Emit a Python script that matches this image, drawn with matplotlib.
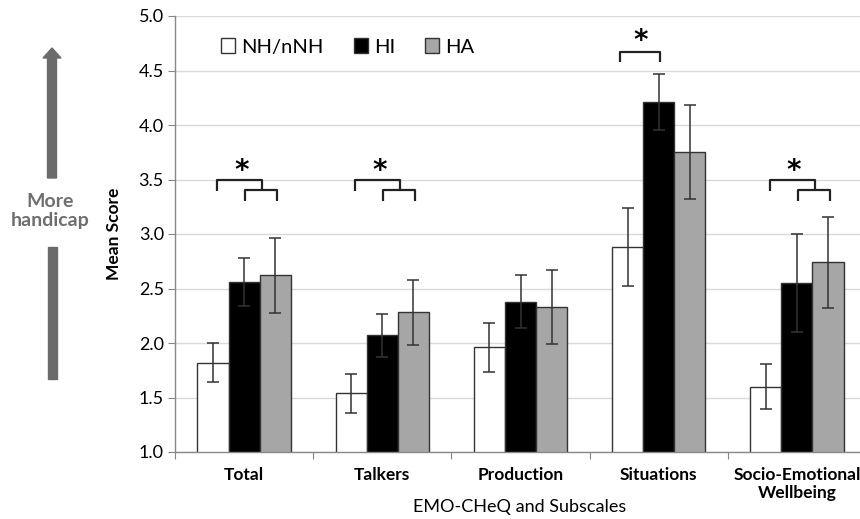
import matplotlib
matplotlib.use("Agg")
import matplotlib.pyplot as plt
from matplotlib.patches import Rectangle, FancyArrow
import numpy as np

plt.rcParams['font.family'] = ['Lato', 'DejaVu Sans']

categories = ["Total", "Talkers", "Production", "Situations", "Socio-Emotional\nWellbeing"]
groups = ["NH/nNH", "HI", "HA"]
nh_mean = [1.82, 1.54, 1.96, 2.88, 1.60]
nh_err = [0.18, 0.18, 0.225, 0.36, 0.21]
hi_mean = [2.56, 2.07, 2.38, 4.21, 2.55]
hi_err = [0.22, 0.20, 0.24, 0.26, 0.45]
ha_mean = [2.62, 2.28, 2.33, 3.75, 2.74]
ha_err = [0.345, 0.30, 0.34, 0.43, 0.42]
yticks = [1.0, 1.5, 2.0, 2.5, 3.0, 3.5, 4.0, 4.5, 5.0]

# significance: categories with double bracket (NH vs HI & HA) and single bracket (NH vs HI)
double_sig = [0, 1, 4]
single_sig = [3]

colors = ["white", "black", "#a6a6a6"]
means = [nh_mean, hi_mean, ha_mean]
errs = [nh_err, hi_err, ha_err]

fig = plt.figure(figsize=(8.6, 5.19), dpi=100)
ax = fig.add_axes([175/860, 1-452/519, 691/860, 436/519])

x = np.arange(len(categories))
w = 0.225
offs = [-w, 0, w]
for m, e, c, o, g in zip(means, errs, colors, offs, groups):
    ax.bar(x + o, m, width=w, bottom=0, color=c, edgecolor="#333333", linewidth=1.0,
           label=g, zorder=2)
    ax.errorbar(x + o, m, yerr=e, fmt='none', ecolor="#333333", elinewidth=1.1,
                capsize=4, capthick=1.1, zorder=3)

ax.set_ylim(1.0, 5.0)
ax.set_xlim(-0.5, 4.5)
ax.set_yticks(yticks)
ax.set_yticklabels([f"{t:.1f}" for t in yticks], fontsize=13)
ax.yaxis.grid(True, color="#d9d9d9", linewidth=1.0, zorder=0)
ax.set_axisbelow(True)
ax.set_xticks(np.arange(-0.5, 4.6, 1.0))
ax.set_xticklabels([])
ax.set_xticks(x, minor=True)
ax.set_xticklabels(categories, minor=True, fontsize=12.5, fontweight='bold', linespacing=1.1)
ax.tick_params(axis='x', which='minor', length=0, pad=11)
ax.tick_params(axis='x', which='major', length=5, color="#888888", direction='out')
ax.tick_params(axis='y', length=5, color="#888888", pad=3)
for s in ['top', 'right']:
    ax.spines[s].set_visible(False)
for s in ['left', 'bottom']:
    ax.spines[s].set_color("#888888")
    ax.spines[s].set_linewidth(1.0)

ax.set_ylabel("Mean Score", fontsize=12.5, fontweight='bold', labelpad=12)
fig.text(520/860, 1-507/519, "EMO-CHeQ and Subscales", ha='center', va='center', fontsize=13)

bk = dict(color="#222222", lw=1.6, zorder=4, solid_capstyle='butt')
for i in double_sig:
    ax.plot([i-0.196, i-0.196, i+0.13, i+0.13], [3.39, 3.50, 3.50, 3.40], **bk)
    ax.plot([i+0.007, i+0.007, i+0.236, i+0.236], [3.30, 3.40, 3.40, 3.30], **bk)
    ax.text(i-0.02, 3.58, "*", ha='center', va='center', fontsize=20, fontweight='bold',
            family='DejaVu Sans')
for i in single_sig:
    ax.plot([i-0.28, i-0.28, i+0.007, i+0.007], [4.58, 4.67, 4.67, 4.58], **bk)
    ax.text(i-0.13, 4.77, "*", ha='center', va='center', fontsize=20, fontweight='bold',
            family='DejaVu Sans')

leg = ax.legend(loc='center left', bbox_to_anchor=(0.055, 0.929), ncol=3, frameon=False,
                fontsize=14.5, handlelength=0.7, handleheight=0.7, handletextpad=0.3,
                columnspacing=1.5, borderaxespad=0)

# left arrow with text
arrow_col = "#6b6b6b"
fig.patches.append(Rectangle((47.5/860, 1-379/519), 9/860, (379-247)/519,
                             transform=fig.transFigure, color=arrow_col))
fig.add_artist(FancyArrow(52/860, 1-178/519, 0, (178-48)/519,
               width=9/860, head_width=18/860, head_length=10/519,
               length_includes_head=True, transform=fig.transFigure, color=arrow_col))
fig.text(50/860, 1-211/519, "More\nhandicap", ha='center', va='center', fontsize=14,
         fontweight='bold', color="#6e6e6e", linespacing=1.1)

fig.savefig("out.png", dpi=100)
